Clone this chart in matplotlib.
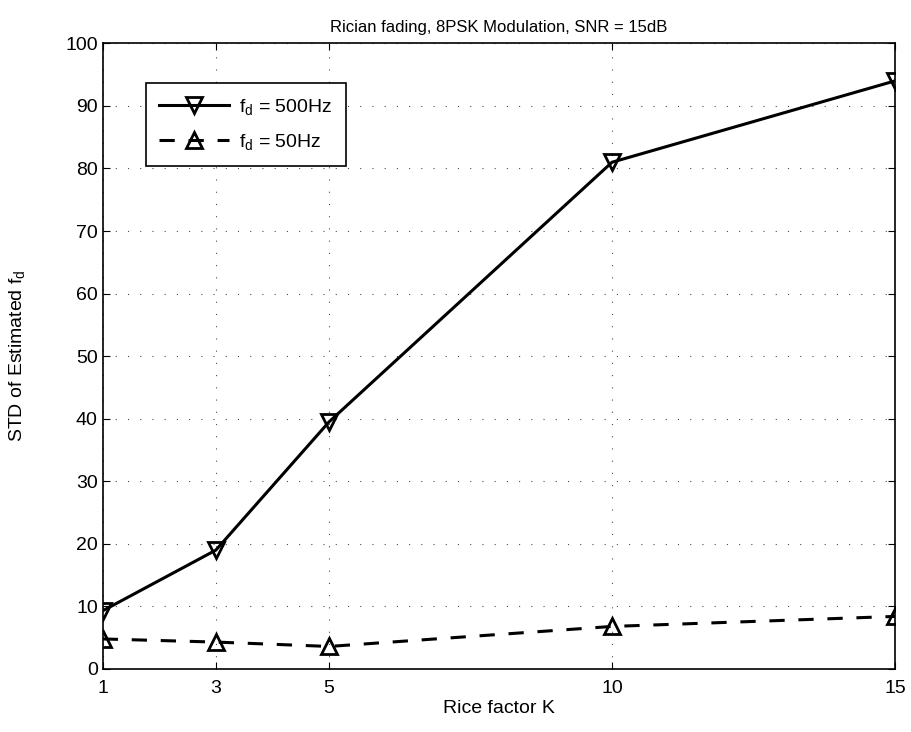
import matplotlib
matplotlib.use("Agg")
import matplotlib.pyplot as plt

plt.rcParams['font.family'] = ['Liberation Sans', 'DejaVu Sans']
plt.rcParams['mathtext.fontset'] = 'custom'
plt.rcParams['mathtext.rm'] = 'Liberation Sans'
plt.rcParams['mathtext.it'] = 'Liberation Sans'

# Rice factor K and std of the estimated Doppler frequency
rice_k = [1, 3, 5, 10, 15]
std_fd500 = [9.3, 19.0, 39.5, 81.0, 94.0]
std_fd50 = [4.8, 4.3, 3.6, 6.8, 8.4]
x_ticks = [1, 3, 5, 10, 15]
y_ticks = list(range(0, 101, 10))

fig = plt.figure(figsize=(9.12, 7.32), dpi=100)
ax = fig.add_axes([0.1126, 0.0861, 0.8688, 0.8547])

ax.plot(rice_k, std_fd500, color='black', lw=2.2, marker='v', markersize=12,
        markerfacecolor='none', markeredgewidth=2, label=r'f$_d$ = 500Hz')
ax.plot(rice_k, std_fd50, color='black', lw=2.2, dashes=(5, 4.5), marker='^',
        markersize=12, markerfacecolor='none', markeredgewidth=2,
        label=r'f$_d$ = 50Hz')

ax.set_xlim(1, 15)
ax.set_ylim(0, 100)
ax.set_xticks(x_ticks)
ax.set_yticks(y_ticks)
ax.tick_params(direction='in', top=True, right=True, length=5, labelsize=14)
ax.tick_params(axis='x', pad=8)
ax.grid(True, color='black', linestyle=(0, (1, 10)), lw=0.8, alpha=0.7)
for s in ax.spines.values():
    s.set_linewidth(1.2)

ax.set_xlabel('Rice factor K', fontsize=14, labelpad=2)
ax.set_ylabel(r'STD of Estimated f$_d$', fontsize=14)
ax.yaxis.set_label_coords(-0.095, 0.5)
ax.set_title('Rician fading, 8PSK Modulation, SNR = 15dB', fontsize=12, pad=8)

leg = ax.legend(loc='upper left', bbox_to_anchor=(0.042, 0.952), fontsize=14,
                fancybox=False, framealpha=1, handlelength=3.6,
                borderpad=0.7, labelspacing=0.8, handletextpad=0.5)
leg.get_frame().set_edgecolor('black')
leg.get_frame().set_linewidth(1.2)

fig.savefig('out.png', dpi=100)
